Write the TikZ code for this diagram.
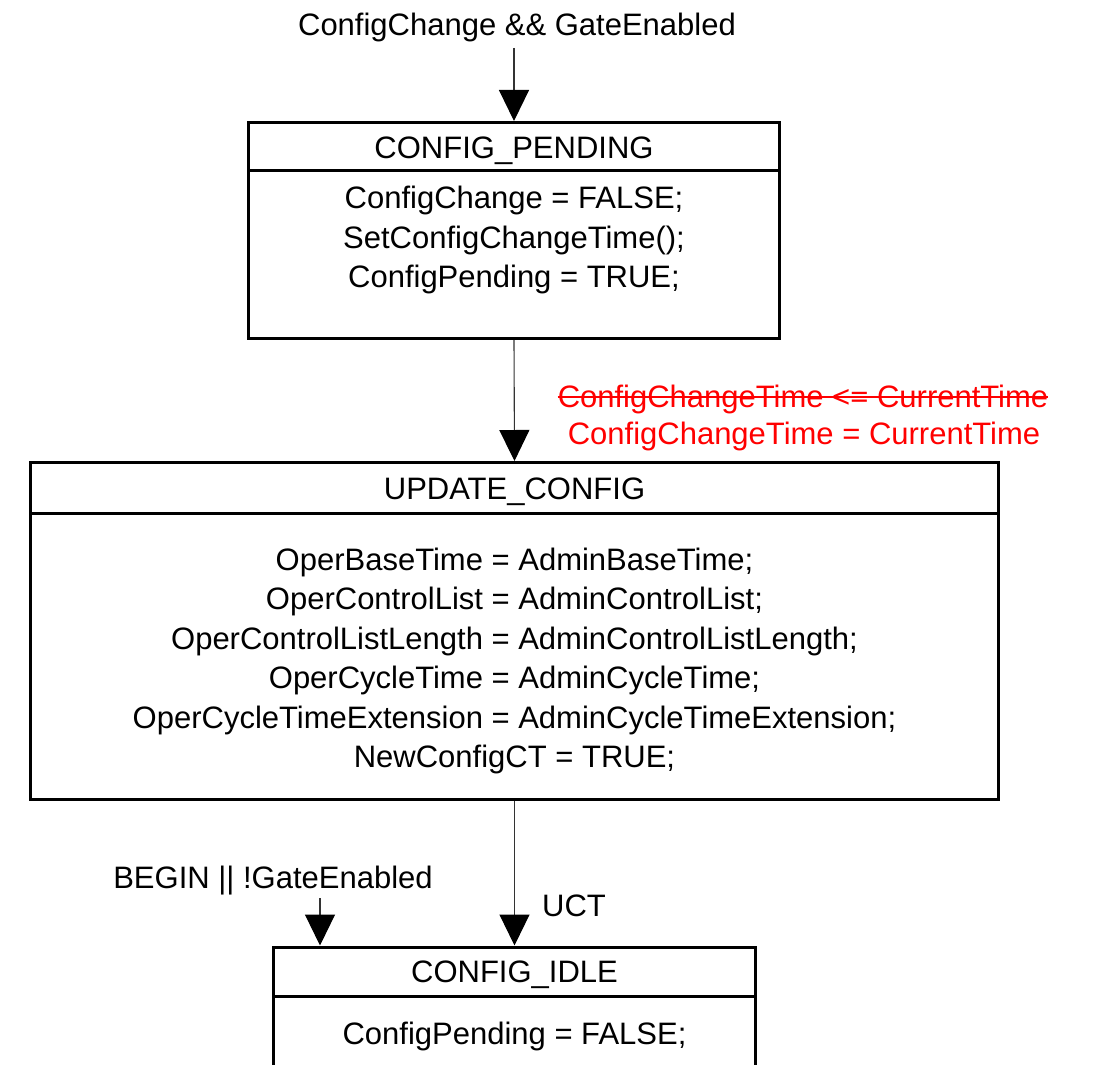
\documentclass[tikz,border=0pt]{standalone}
\usepackage{fontspec}
\setmainfont{Liberation Sans}
\usetikzlibrary{arrows.meta}
\definecolor{guardred}{RGB}{255,0,0}
\tikzset{
  statebox/.style={draw=black, line width=3pt, rectangle, inner sep=0pt},
  sepline/.style={draw=black, line width=3pt},
  txt/.style={inner sep=0pt, font=\fontsize{31}{39.5}\selectfont},
  body/.style={txt, align=center},
  trans/.style={draw=black!80, line width=1.1pt, -{Triangle[width=30pt,length=31pt,color=black]}},
  guard/.style={txt, text=guardred},
}
\begin{document}
\begin{tikzpicture}[x=1pt, y=-1pt]
  \clip (0,0) rectangle (1101,1065);
  \fill[white] (0,0) rectangle (1101,1065);

  % CONFIG_PENDING state
  \node[statebox, minimum width=531pt, minimum height=216pt] (pend) at (514,230.5) {};
  \node[txt, anchor=base] (pendT) at (514,158) {CONFIG\_PENDING};
  \draw[sepline] (pend.west |- 0,170) -- (pend.east |- 0,170);
  \node[body] (pendB) at (514,240) {ConfigChange = FALSE;\\SetConfigChangeTime();\\ConfigPending = TRUE;};

  % UPDATE_CONFIG state
  \node[statebox, minimum width=968pt, minimum height=337pt] (upd) at (514.5,631) {};
  \node[txt, anchor=base] (updT) at (514.5,499) {UPDATE\_CONFIG};
  \draw[sepline] (upd.west |- 0,513) -- (upd.east |- 0,513);
  \node[body] (updB) at (514.5,661) {OperBaseTime = AdminBaseTime;\\OperControlList = AdminControlList;\\OperControlListLength = AdminControlListLength;\\OperCycleTime = AdminCycleTime;\\OperCycleTimeExtension = AdminCycleTimeExtension;\\NewConfigCT = TRUE;};

  % CONFIG_IDLE state
  \node[statebox, minimum width=482pt, minimum height=160pt] (idle) at (514.5,1027) {};
  \node[txt, anchor=base] (idleT) at (514.5,982) {CONFIG\_IDLE};
  \draw[sepline] (idle.west |- 0,996) -- (idle.east |- 0,996);
  \node[txt, anchor=base] (idleB) at (514.5,1044) {ConfigPending = FALSE;};

  % entry condition into CONFIG_PENDING
  \node[txt, anchor=base] (entry) at (517,36) {ConfigChange \&\& GateEnabled};
  \coordinate (entryS) at (514,48);
  \draw[trans] (entryS) -- (pend.north);

  % CONFIG_PENDING -> UPDATE_CONFIG
  \draw[trans] (pend.south) -- (upd.north);
  \node[guard, anchor=base] (g1) at (803,407) {ConfigChangeTime <= CurrentTime};
  \draw[guardred, line width=2pt] ([yshift=10pt]g1.base west) -- ([yshift=10pt]g1.base east);
  \node[guard, anchor=base] (g2) at (804,444) {ConfigChangeTime = CurrentTime};

  % UPDATE_CONFIG -> CONFIG_IDLE
  \draw[trans] (upd.south) -- (idle.north);
  \node[txt, anchor=base west] (uct) at (542,916) {UCT};

  % global entry into CONFIG_IDLE
  \node[txt, anchor=base] (beg) at (273,888) {BEGIN || !GateEnabled};
  \coordinate (begS) at (320,898);
  \draw[trans] (begS) -- (begS |- idle.north);
\end{tikzpicture}
\end{document}
